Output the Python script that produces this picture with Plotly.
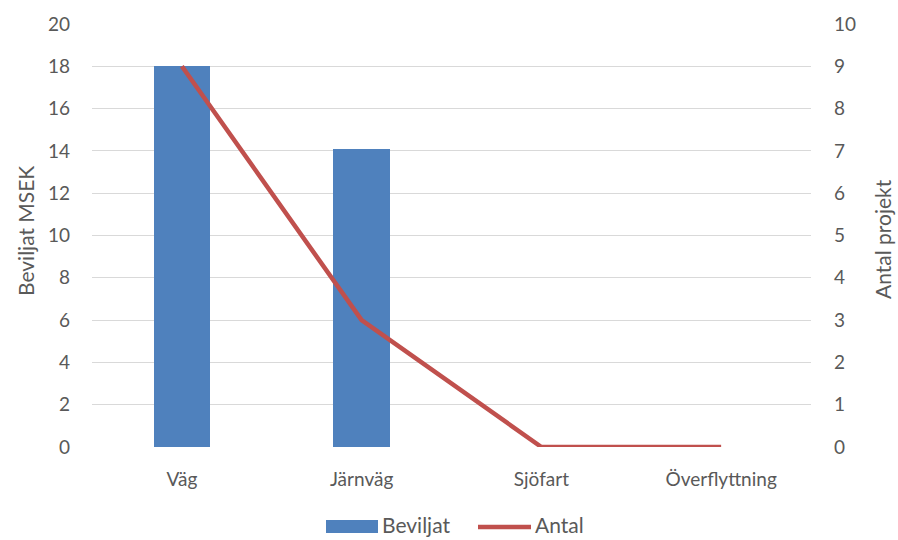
import plotly.graph_objects as go

categories = ["Väg", "Järnväg", "Sjöfart", "Överflyttning"]
beviljat = [18, 14.1, 0, 0]
antal = [9, 3, 0, 0]
left_ticks = list(range(0, 21, 2))
right_ticks = list(range(0, 11, 1))

BAR_COLOR = "#4F81BD"
LINE_COLOR = "#C0504D"
TEXT_COLOR = "#595959"
GRID_COLOR = "#D9D9D9"
FONT = "Lato"

fig = go.Figure()
fig.add_trace(go.Bar(
    x=categories, y=beviljat, name="Beviljat",
    marker=dict(color=BAR_COLOR, line=dict(width=0)),
    width=0.314, showlegend=False,
))
fig.add_trace(go.Scatter(
    x=categories, y=antal, name="Antal", yaxis="y2", mode="lines",
    line=dict(color=LINE_COLOR, width=4.5), showlegend=False,
))

fig.update_layout(
    width=898, height=540,
    margin=dict(l=92, r=87, t=24, b=93),
    paper_bgcolor="white", plot_bgcolor="white",
    font=dict(family=FONT, size=19, color=TEXT_COLOR),
    xaxis=dict(
        showgrid=False, showline=False, zeroline=False, ticks="",
        ticklabelstandoff=19,
    ),
    yaxis=dict(
        range=[0, 20], tickvals=left_ticks, showgrid=True, gridcolor=GRID_COLOR,
        gridwidth=1.3, zeroline=False, showline=False, ticks="",
        ticklabelstandoff=21,
    ),
    yaxis2=dict(
        range=[0, 10], tickvals=right_ticks, overlaying="y", side="right",
        showgrid=False, zeroline=False, showline=False, ticks="",
        ticklabelstandoff=22,
    ),
    bargap=0,
)


def px(x):
    return (x - 92) / 719


def py(y):
    return (447 - y) / 423


# Axis titles
fig.add_annotation(text="Beviljat MSEK", xref="paper", yref="paper",
                   x=px(25), y=py(231), textangle=-90, showarrow=False,
                   xanchor="center", yanchor="middle", font=dict(size=21))
fig.add_annotation(text="Antal projekt", xref="paper", yref="paper",
                   x=px(883), y=py(239), textangle=-90, showarrow=False,
                   xanchor="center", yanchor="middle", font=dict(size=21))

# Legend drawn below the plot
leg_y = 524
fig.add_shape(type="rect", xref="paper", yref="paper",
              x0=px(326), x1=px(378), y0=py(leg_y + 9), y1=py(leg_y - 4),
              fillcolor=BAR_COLOR, line=dict(width=0))
fig.add_annotation(text="Beviljat", xref="paper", yref="paper",
                   x=px(380), y=py(leg_y), showarrow=False,
                   xanchor="left", yanchor="middle", font=dict(size=21))
fig.add_shape(type="line", xref="paper", yref="paper",
              x0=px(478), x1=px(531), y0=py(leg_y + 3), y1=py(leg_y + 3),
              line=dict(color=LINE_COLOR, width=4.5))
fig.add_annotation(text="Antal", xref="paper", yref="paper",
                   x=px(533), y=py(leg_y), showarrow=False,
                   xanchor="left", yanchor="middle", font=dict(size=21))

fig.write_html("out.html")
